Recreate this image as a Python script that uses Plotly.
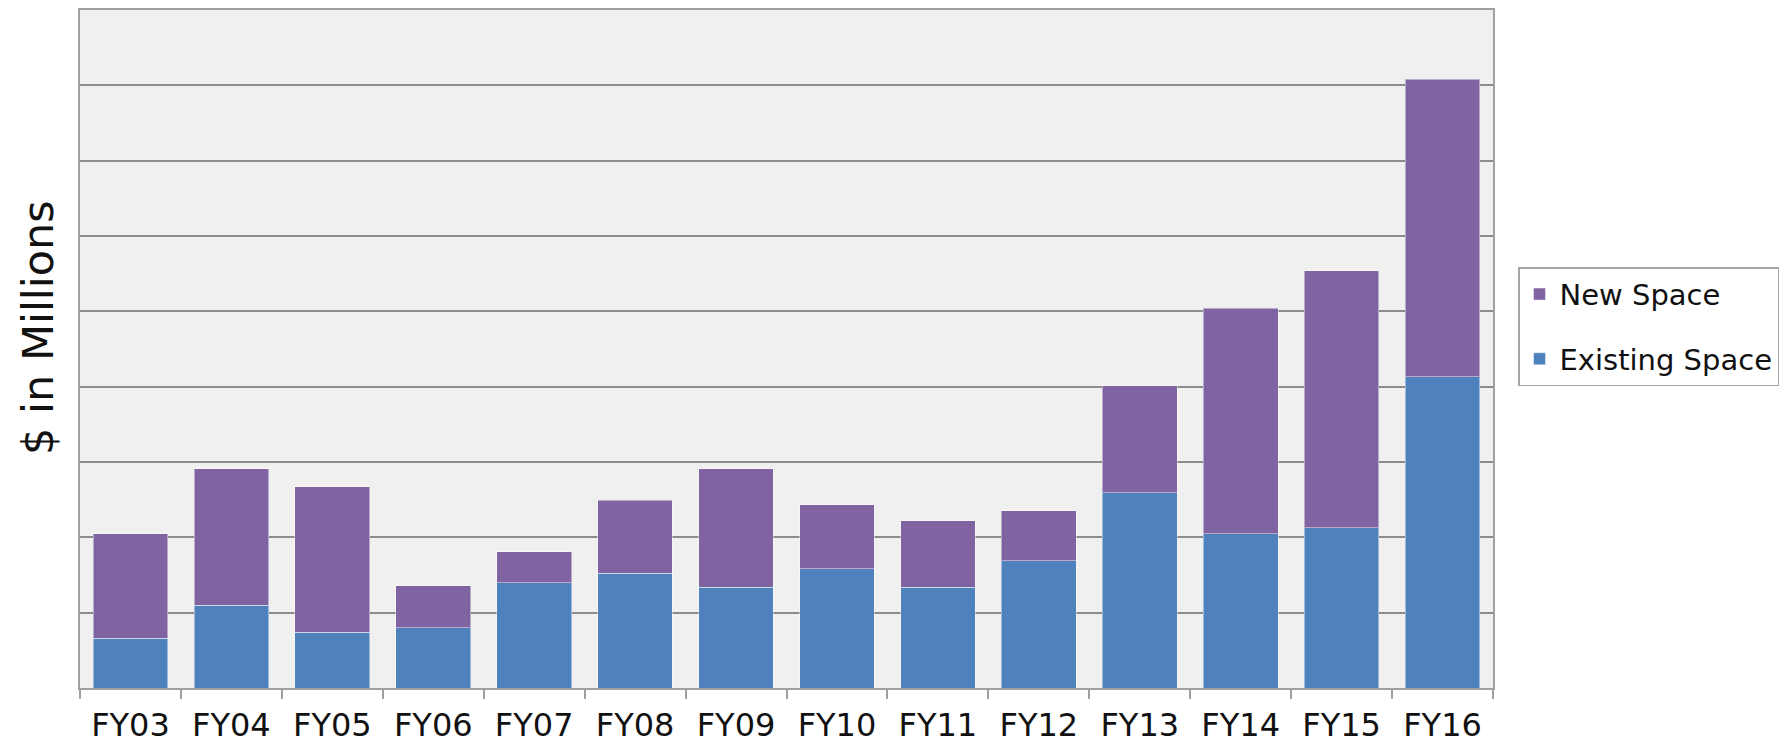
import plotly.graph_objects as go

categories = ["FY03", "FY04", "FY05", "FY06", "FY07", "FY08", "FY09",
              "FY10", "FY11", "FY12", "FY13", "FY14", "FY15", "FY16"]
existing_space = [0.66, 1.10, 0.74, 0.80, 1.40, 1.52, 1.34,
                  1.58, 1.34, 1.69, 2.59, 2.05, 2.13, 4.13]
total_space = [2.05, 2.91, 2.67, 1.36, 1.81, 2.49, 2.91,
               2.43, 2.22, 2.35, 4.01, 5.04, 5.54, 8.08]
new_space = [round(t - e, 2) for t, e in zip(total_space, existing_space)]

FONT = "DejaVu Sans"
fig = go.Figure()
fig.add_trace(go.Bar(
    x=categories, y=existing_space, name="Existing Space",
    marker=dict(color="#4F81BD", line=dict(color="rgba(255,255,255,0.45)", width=1)),
    legendgroup="b", legendrank=2,
))
fig.add_trace(go.Bar(
    x=categories, y=new_space, name="New Space",
    marker=dict(color="#8064A2", line=dict(color="rgba(255,255,255,0.45)", width=1)),
    legendgroup="a", legendrank=1,
))

fig.add_annotation(
    text="$ in Millions", xref="paper", yref="paper",
    x=-0.0297, y=0.531, xanchor="center", yanchor="middle",
    textangle=-90, showarrow=False,
    font=dict(size=43, family=FONT, color="#111111"),
)

fig.update_layout(
    width=1783, height=737,
    barmode="stack", bargap=0.26,
    paper_bgcolor="white", plot_bgcolor="#F0F0F0",
    margin=dict(l=72, r=298, t=0, b=57),
    font=dict(family=FONT, color="#111111"),
    showlegend=True,
    legend=dict(
        x=1.0177, y=0.6206, xanchor="left", yanchor="top",
        traceorder="grouped", tracegroupgap=24,
        bordercolor="#A6A6A6", borderwidth=1.5, bgcolor="white",
        font=dict(size=29, family=FONT, color="#111111"),
        itemwidth=30,
    ),
    xaxis=dict(
        showgrid=False, showline=True, linecolor="#A0A0A0", linewidth=2,
        mirror=True, ticks="outside", tickson="boundaries", ticklen=9,
        tickcolor="#A0A0A0", tickwidth=2, ticklabelstandoff=8,
        tickfont=dict(size=32, family=FONT, color="#111111"),
    ),
    yaxis=dict(
        range=[0, 9], dtick=1, showticklabels=False,
        showgrid=True, gridcolor="#8C8C8C", gridwidth=1.5,
        showline=True, linecolor="#A0A0A0", linewidth=2, mirror=True,
        zeroline=False,
    ),
)

fig.write_html("out.html")
